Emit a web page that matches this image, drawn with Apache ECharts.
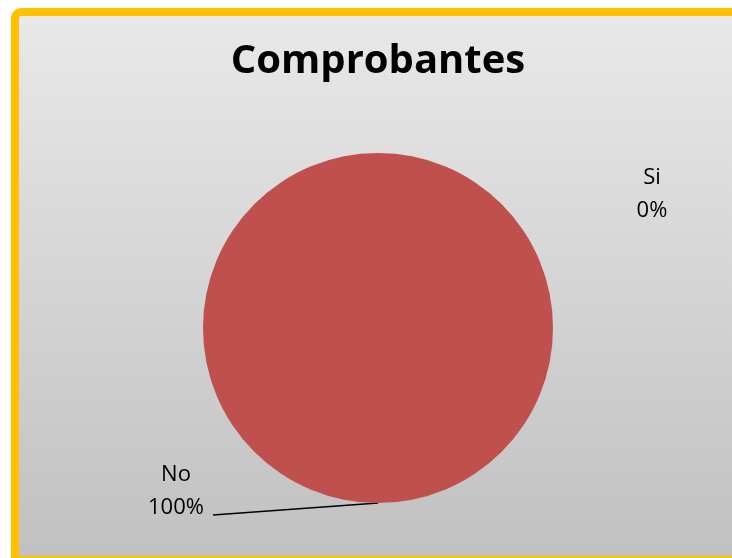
<!DOCTYPE html>
<html>
<head>
<meta charset="utf-8">
<script src="https://cdn.jsdelivr.net/npm/echarts@6/dist/echarts.min.js"></script>
<style>
html,body{margin:0;padding:0;background:#fff;}
#chart{width:732px;height:558px;}
</style>
</head>
<body>
<div id="chart"></div>
<script>
const titleText = 'Comprobantes';
const categories = ['Si', 'No'];
const values = [0, 100];
const colors = ['#4F81BD', '#C0504D'];

const chart = echarts.init(document.getElementById('chart'), null, {renderer: 'canvas'});

const labelPos = {
  'Si': {x: 652, y: 194},
  'No': {x: 176, y: 491}
};

const option = {
  backgroundColor: '#ffffff',
  animation: false,
  title: {
    text: titleText,
    left: 373,
    textAlign: 'center',
    top: 37,
    textStyle: {fontFamily: 'Open Sans', fontWeight: 'bold', fontSize: 40, color: '#000'}
  },
  graphic: [{
    type: 'rect',
    z: -10,
    silent: true,
    shape: {x: 15, y: 12, width: 740, height: 548, r: [6, 0, 0, 0]},
    style: {
      fill: {
        type: 'linear', x: 0, y: 0, x2: 0, y2: 1,
        colorStops: [{offset: 0, color: '#e9e9e9'}, {offset: 1, color: '#c0c0c0'}]
      },
      stroke: '#FFC000',
      lineWidth: 8
    }
  }],
  series: [{
    type: 'pie',
    center: [378, 328],
    radius: 175,
    startAngle: 90,
    clockwise: true,
    silent: true,
    emphasis: {disabled: true},
    itemStyle: {borderWidth: 0},
    label: {
      show: true,
      formatter: '{b}\n{d}%',
      fontFamily: 'Open Sans',
      fontSize: 22,
      lineHeight: 33,
      color: '#000',
      align: 'center'
    },
    labelLine: {show: true, lineStyle: {color: '#000', width: 1.5}},
    data: categories.map((c, i) => ({
      name: c,
      value: values[i],
      itemStyle: {color: colors[i]},
      labelLine: {show: c !== 'Si'}
    })),
    labelLayout: function (params) {
      const name = categories[params.dataIndex];
      const p = labelPos[name];
      const res = {x: p.x, y: p.y, align: 'center', verticalAlign: 'middle'};
      if (name === 'No' && params.labelLinePoints) {
        const start = params.labelLinePoints[0];
        const endX = p.x + params.labelRect.width / 2 + 9;
        const endY = p.y + 24;
        res.labelLinePoints = [start, [endX, endY], [endX, endY]];
      }
      return res;
    }
  }]
};
chart.setOption(option);
</script>
</body>
</html>
